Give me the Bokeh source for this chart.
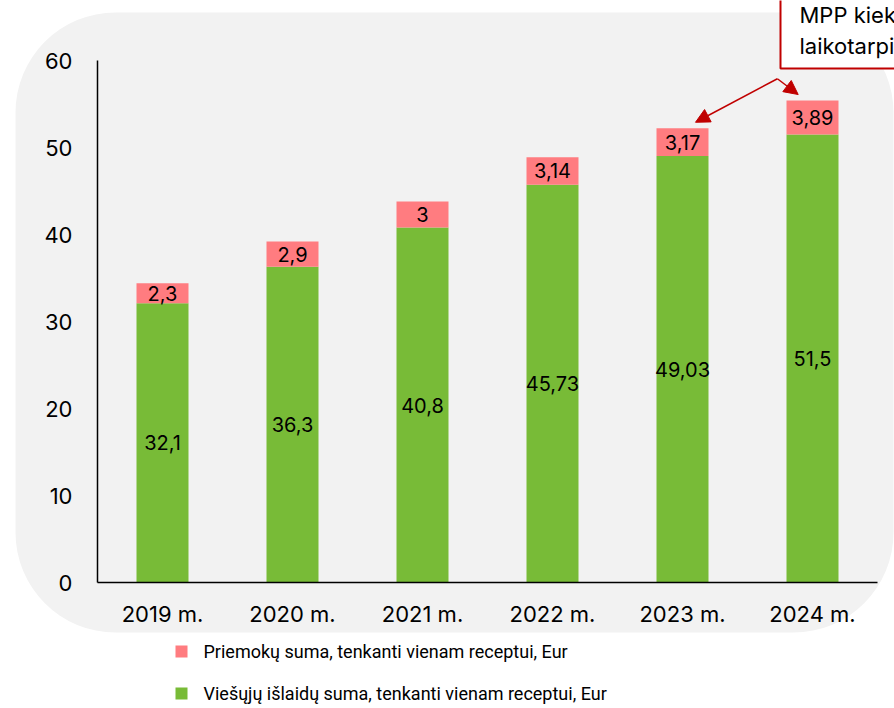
from bokeh.plotting import figure
from bokeh.models import (ColumnDataSource, BoxAnnotation, Label, Arrow, NormalHead,
                          FixedTicker, LinearAxis, Range1d)
from bokeh.core.properties import value
from bokeh.embed import file_html
from bokeh.resources import INLINE

# ---- data ----
years = ["2019 m.", "2020 m.", "2021 m.", "2022 m.", "2023 m.", "2024 m."]
public_spend = [32.1, 36.3, 40.8, 45.73, 49.03, 51.5]
copay = [2.3, 2.9, 3.0, 3.14, 3.17, 3.89]
public_labels = ["32,1", "36,3", "40,8", "45,73", "49,03", "51,5"]
copay_labels = ["2,3", "2,9", "3", "3,14", "3,17", "3,89"]
y_ticks = [0, 10, 20, 30, 40, 50, 60]
legend_names = ["Priemokų suma, tenkanti vienam receptui, Eur",
                "Viešųjų išlaidų suma, tenkanti vienam receptui, Eur"]
callout_lines = ["MPP kiekio", "laikotarpis"]

GREEN = "#78BB37"
PINK = "#FF7C80"
RED = "#C00000"
FONT = "Inter"

W, H = 894, 708
# plot area in canvas pixels
AX_LEFT, AX_RIGHT, AX_TOP, AX_BOTTOM = 97, 877, 60, 582
Y_MAX = 60
n = len(years)
px_per_x = (AX_RIGHT - AX_LEFT) / n
px_per_y = (AX_BOTTOM - AX_TOP) / Y_MAX
x_start = -0.5 - AX_LEFT / px_per_x
x_end = -0.5 + (W - AX_LEFT) / px_per_x
y_end = AX_BOTTOM / px_per_y
y_start = -(H - AX_BOTTOM) / px_per_y

xs = list(range(n))
totals = [a + b for a, b in zip(public_spend, copay)]
src = ColumnDataSource(dict(
    x=xs, pub=public_spend, cop=copay, top=totals,
    pub_mid=[v / 2 for v in public_spend],
    cop_mid=[a + b / 2 for a, b in zip(public_spend, copay)],
    pub_lab=public_labels, cop_lab=copay_labels,
))

p = figure(x_range=Range1d(x_start, x_end), y_range=Range1d(y_start, y_end),
           width=W, height=H, output_backend="svg", toolbar_location=None,
           x_axis_type=None, y_axis_type=None,
           min_border_left=0, min_border_right=0, min_border_top=0,
           min_border_bottom=0)
p.background_fill_color = "white"
p.border_fill_color = "white"
p.outline_line_color = None
p.grid.grid_line_color = None

# rounded grey panel behind the chart
p.add_layout(BoxAnnotation(left=15, right=893, top=12, bottom=632,
                           left_units="canvas", right_units="canvas",
                           top_units="canvas", bottom_units="canvas",
                           fill_color="#F2F2F2", fill_alpha=1, line_color=None,
                           border_radius=100, level="underlay"))

p.vbar(x="x", bottom=0, top="pub", width=0.4, source=src,
       fill_color=GREEN, line_color=None)
p.vbar(x="x", bottom="pub", top="top", width=0.4, source=src,
       fill_color=PINK, line_color=None)

p.text(x="x", y="pub_mid", text="pub_lab", source=src, text_align="center",
       text_baseline="middle", text_font=value(FONT), text_font_size="20px",
       text_color="black")
p.text(x="x", y="cop_mid", text="cop_lab", source=src, text_align="center",
       text_baseline="middle", text_font=value(FONT), text_font_size="20px",
       text_color="black")

# axes drawn at fixed data locations
yaxis = LinearAxis(fixed_location=-0.5, bounds=(0, Y_MAX),
                   ticker=FixedTicker(ticks=y_ticks))
xaxis = LinearAxis(fixed_location=0, bounds=(-0.5, n - 0.5),
                   ticker=FixedTicker(ticks=xs),
                   major_label_overrides={i: y for i, y in enumerate(years)})
for ax in (xaxis, yaxis):
    ax.axis_line_color = "black"
    ax.axis_line_width = 1.5
    ax.major_tick_line_color = None
    ax.minor_tick_line_color = None
    ax.major_tick_out = 0
    ax.major_tick_in = 0
    ax.major_label_text_font = FONT
    ax.major_label_text_font_size = "22px"
    ax.major_label_text_color = "black"
yaxis.major_label_standoff = 25
xaxis.major_label_standoff = 18
p.add_layout(yaxis, "left")
p.add_layout(xaxis, "below")

# callout box with arrows
p.add_layout(BoxAnnotation(left=780, right=910, top=-10, bottom=68,
                           left_units="canvas", right_units="canvas",
                           top_units="canvas", bottom_units="canvas",
                           fill_color="white", fill_alpha=1,
                           line_color=RED, line_alpha=1, line_width=2,
                           level="overlay"))
for i, t in enumerate(callout_lines):
    p.add_layout(Label(x=799, y=14 + 31 * i, x_units="canvas", y_units="canvas",
                       text=t, text_font=FONT, text_font_size="22px",
                       text_color="black", text_align="left",
                       text_baseline="middle", level="overlay"))

start_x, start_y = 4.73, 57.9
for idx, dx in ((4, 0.1), (5, -0.11)):
    p.add_layout(Arrow(x_start=start_x, y_start=start_y,
                       x_end=idx + dx, y_end=totals[idx] + 0.7,
                       line_color=RED, line_width=1.5,
                       end=NormalHead(size=14, fill_color=RED, line_color=RED)))

# legend (manual)
legend_colors = [PINK, GREEN]
for i, (name, col) in enumerate(zip(legend_names, legend_colors)):
    cy = 651 + 42 * i
    p.add_layout(BoxAnnotation(left=175, right=187, top=cy - 6, bottom=cy + 6,
                               left_units="canvas", right_units="canvas",
                               top_units="canvas", bottom_units="canvas",
                               fill_color=col, fill_alpha=1, line_color=None))
    p.add_layout(Label(x=203, y=cy, x_units="canvas", y_units="canvas",
                       text=name, text_font="Roboto",
                       text_font_size="18px", text_color="black",
                       text_baseline="middle"))

html = file_html(p, INLINE)
open("out.html", "w").write(html)
